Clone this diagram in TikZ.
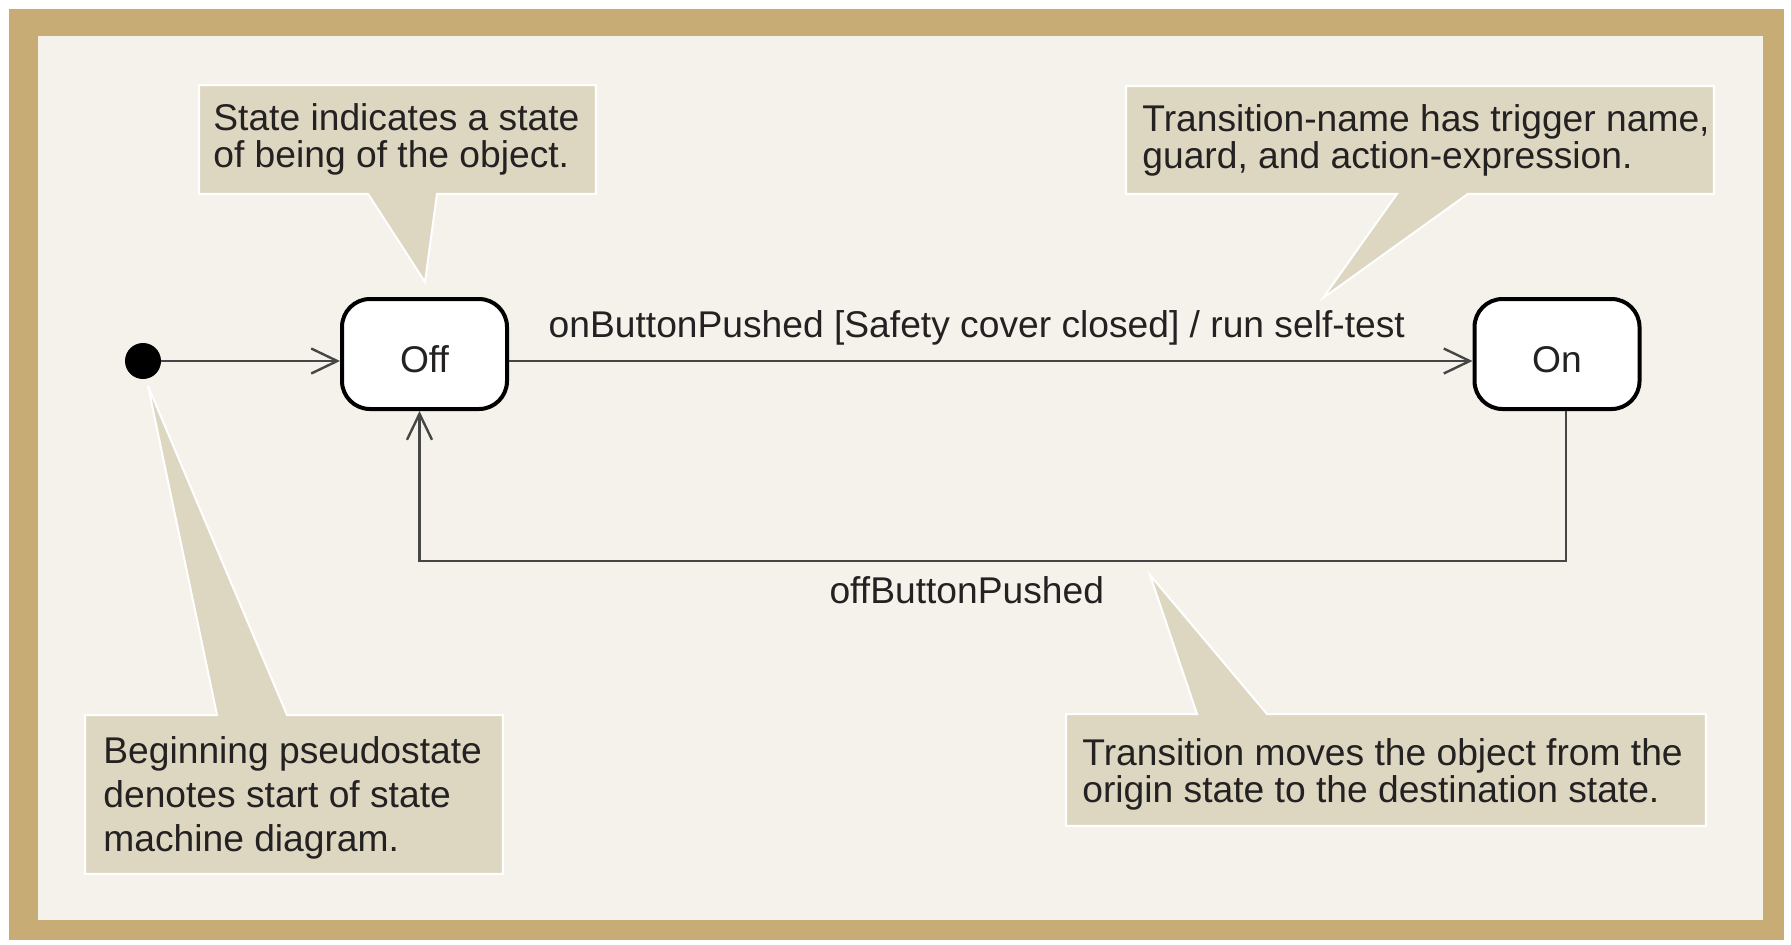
\documentclass[tikz,border=0pt]{standalone}
\usepackage{fontspec}
\setmainfont{Liberation Sans}
\usetikzlibrary{arrows.meta,positioning,calc}
\definecolor{frametan}{RGB}{200,172,118}
\definecolor{paper}{RGB}{245,242,236}
\definecolor{notetan}{RGB}{221,214,193}
\definecolor{ink}{RGB}{35,33,33}
\definecolor{wire}{RGB}{70,70,70}
\pgfdeclarelayer{sheet}
\pgfdeclarelayer{notes}
\pgfsetlayers{sheet,notes,main}

\begin{document}
\begin{tikzpicture}[x=0.5pt,y=-0.5pt,
    font=\fontsize{18.6}{18.5}\selectfont, text=ink,
    state/.style={draw=black, line width=2pt, fill=white, rounded corners=14pt,
      minimum width=82.5pt, minimum height=55pt, inner sep=0pt,
      text height=18pt, text depth=0pt},
    start/.style={circle, fill=black, minimum size=18pt, inner sep=0pt},
    trans/.style={draw=wire, line width=1.2pt, -{Straight Barb[length=13pt,width=12.5pt]}},
    notebox/.style={anchor=north west, inner sep=0pt},
    notetext/.style={anchor=west, align=left, inner sep=0pt},
    notebg/.style={fill=notetan, draw=white, line width=1pt},
    lbl/.style={inner sep=0pt}]
  \useasboundingbox (0,0) rectangle (1791,944);
  \begin{pgfonlayer}{sheet}
    \fill[frametan] (9,9) rectangle (1784,940);
    \fill[paper] (38,36) rectangle (1763,920);
  \end{pgfonlayer}

  \node[start] (init) at (143,361) {};
  \node[state] (off) at (424.5,354) {Off};
  \node[state] (on) at (1557,354) {On};

  \draw[trans] (init) -- (init -| off.west);
  \draw[trans] (off.east |- init) -- node[lbl, above=7.2pt, xshift=-7pt]
    {onButtonPushed [Safety cover closed] / run self-test} (on.west |- init);
  \draw[trans] ([xshift=4.5pt]on.south) -- ++(0,150) -| node[lbl, pos=0.25, below=7.3pt, xshift=-13pt]
    {offButtonPushed} ([xshift=-2.5pt]off.south);

  \node[notebox, minimum width=198pt, minimum height=54pt] (n1) at (199,85) {};
  \node[notetext] (t1) at ([xshift=7pt]n1.west) {State indicates a state\\of being of the object.};
  \node[notebox, minimum width=293.5pt, minimum height=53.5pt] (n2) at (1126,86) {};
  \node[notetext] (t2) at ([xshift=8pt]n2.west) {Transition-name has trigger name,\\guard, and action-expression.};
  \node[notebox, minimum width=208.5pt, minimum height=79pt] (n3) at (85,715) {};
  \node[notetext, font=\fontsize{18.6}{22}\selectfont] (t3) at ([xshift=9pt,yshift=-1.5pt]n3.west)
    {Beginning pseudostate\\denotes start of state\\machine diagram.};
  \node[notebox, minimum width=319.5pt, minimum height=55.5pt] (n4) at (1066,714) {};
  \node[notetext] (t4) at ([xshift=8pt,yshift=-2pt]n4.west) {Transition moves the object from the\\origin state to the destination state.};

  \coordinate (p1) at (425,282);
  \coordinate (p2) at (1323,298);
  \coordinate (p3) at (148,386);
  \coordinate (p4) at (1150,575);

  \begin{pgfonlayer}{notes}
    \draw[notebg] (n1.north west) -- (n1.north east) -- (n1.south east)
      -- ([xshift=119pt]n1.south west) -- (p1) -- ([xshift=84.5pt]n1.south west)
      -- (n1.south west) -- cycle;
    \draw[notebg] (n2.north west) -- (n2.north east) -- (n2.south east)
      -- ([xshift=171pt]n2.south west) -- (p2) -- ([xshift=135.5pt]n2.south west)
      -- (n2.south west) -- cycle;
    \draw[notebg] (n3.north west) -- ([xshift=66pt]n3.north west) -- (p3)
      -- ([xshift=101pt]n3.north west) -- (n3.north east) -- (n3.south east)
      -- (n3.south west) -- cycle;
    \draw[notebg] (n4.north west) -- ([xshift=65.5pt]n4.north west) -- (p4)
      -- ([xshift=100.5pt]n4.north west) -- (n4.north east) -- (n4.south east)
      -- (n4.south west) -- cycle;
  \end{pgfonlayer}
\end{tikzpicture}
\end{document}
